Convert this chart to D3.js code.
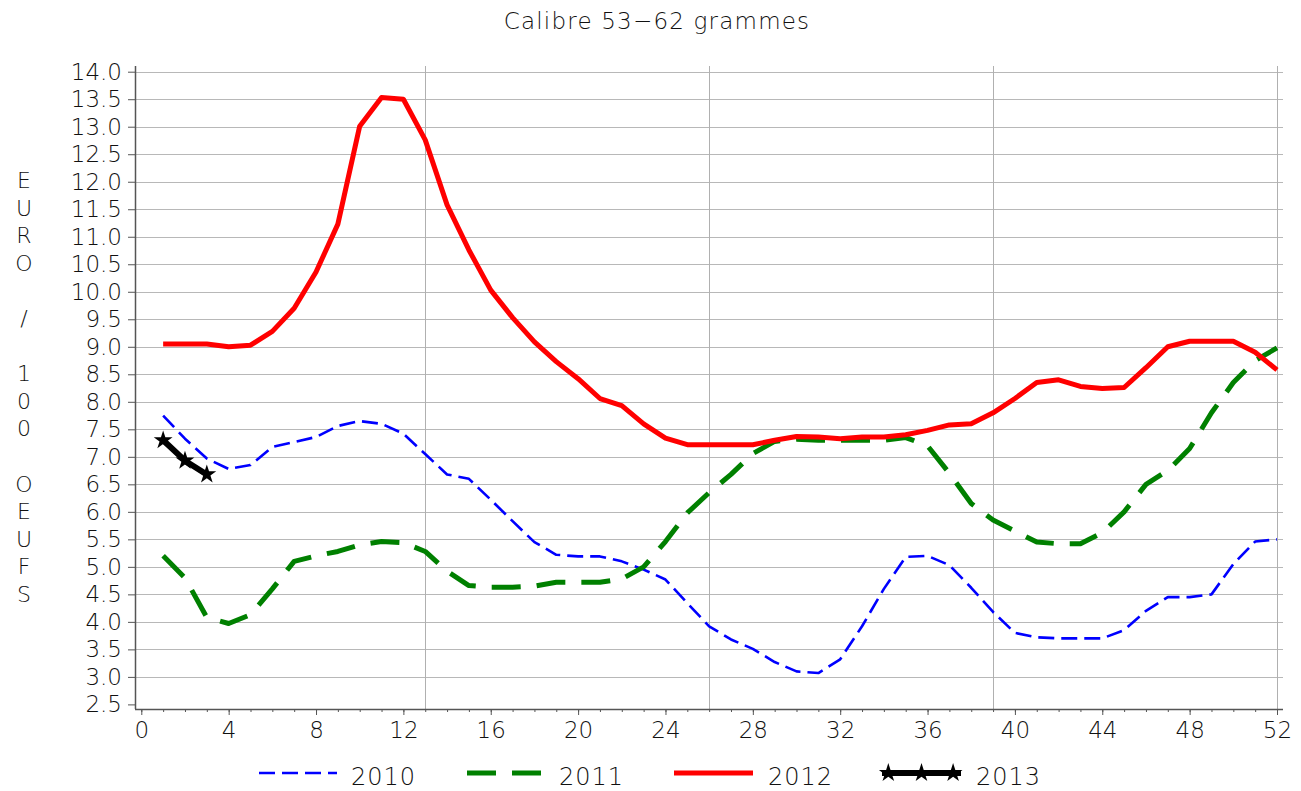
<!DOCTYPE html>
<html>
<head>
<meta charset="utf-8">
<script src="https://cdn.jsdelivr.net/npm/d3@7"></script>
<style>
  body { margin: 0; background: #fff; }
  text { font-family: "DejaVu Sans", sans-serif; font-weight: 200; fill: #111; }
</style>
</head>
<body>
<svg id="viz" width="1301" height="791"></svg>
<script>
// weekly prices, weeks 1..52
var weeks = d3.range(1, 53);
var prix2010 = [7.75, 7.33, 6.97, 6.78, 6.85, 7.18, 7.27, 7.36, 7.56, 7.65,
  7.6, 7.42, 7.05, 6.68, 6.6, 6.22, 5.83, 5.45, 5.22, 5.19,
  5.19, 5.1, 4.95, 4.77, 4.34, 3.92, 3.68, 3.51, 3.27, 3.1,
  3.07, 3.32, 3.92, 4.6, 5.18, 5.2, 5.03, 4.62, 4.18, 3.8,
  3.72, 3.7, 3.7, 3.7, 3.85, 4.2, 4.45, 4.45, 4.5, 5.05,
  5.46, 5.5];
var prix2011 = [5.2, 4.8, 4.08, 3.97, 4.13, 4.6, 5.1, 5.2, 5.28, 5.4,
  5.46, 5.44, 5.28, 4.92, 4.66, 4.63, 4.63, 4.65, 4.72, 4.72,
  4.72, 4.78, 5.0, 5.46, 5.98, 6.35, 6.68, 7.06, 7.28, 7.32,
  7.3, 7.3, 7.3, 7.3, 7.35, 7.2, 6.7, 6.15, 5.85, 5.65,
  5.45, 5.42, 5.42, 5.62, 6.0, 6.5, 6.75, 7.15, 7.8, 8.35,
  8.75, 8.98];
var prix2012 = [9.05, 9.05, 9.05, 9.0, 9.03, 9.28, 9.7, 10.36, 11.23, 13.01,
  13.53, 13.5, 12.76, 11.58, 10.76, 10.03, 9.53, 9.09, 8.73, 8.42,
  8.06, 7.93, 7.6, 7.34, 7.22, 7.22, 7.22, 7.22, 7.3, 7.37,
  7.36, 7.33, 7.36, 7.36, 7.4, 7.48, 7.58, 7.6, 7.8, 8.06,
  8.35, 8.4, 8.28, 8.24, 8.26, 8.62, 9.0, 9.1, 9.1, 9.1,
  8.9, 8.58];
var prix2013 = [7.3, 6.93, 6.68];

var yTicks = d3.range(2.5, 14.01, 0.5);
var xMajor = d3.range(0, 53, 4);
var xGrid = [13, 26, 39, 52];
var titre = "Calibre 53\u221262 grammes";
var yTitre = ["E", "U", "R", "O", " ", "/", " ", "1", "0", "0", " ", "O", "E", "U", "F", "S"];

var series = [
  {name: "2010", values: prix2010, color: "#0000ff", width: 2.6, dash: "16,7", star: false},
  {name: "2011", values: prix2011, color: "#008000", width: 5, dash: "29,16", star: false},
  {name: "2012", values: prix2012, color: "#ff0000", width: 5, dash: null, star: false},
  {name: "2013", values: prix2013, color: "#000000", width: 6, dash: null, star: true}
];

var svg = d3.select("#viz");
var x = d3.scaleLinear().domain([0, 52]).range([141.3, 1277]);
var y = d3.scaleLinear().domain([2.5, 14]).range([704.4, 71.7]);
var plotL = 135, plotB = 709, plotT = 66, plotR = 1283;

// title
svg.append("text")
  .attr("x", 657).attr("y", 29)
  .attr("text-anchor", "middle")
  .style("font-size", "23px").style("letter-spacing", "1.2px")
  .text(titre);

// grid
var grid = svg.append("g");
grid.selectAll(".hg").data(yTicks.filter(function(d){ return d >= 3; }))
  .enter().append("line")
  .attr("x1", plotL).attr("x2", plotR)
  .attr("y1", function(d){ return Math.round(y(d)) + 0.5; })
  .attr("y2", function(d){ return Math.round(y(d)) + 0.5; })
  .attr("stroke", "#b8b8b8").attr("stroke-width", 1);
grid.selectAll(".vg").data(xGrid)
  .enter().append("line")
  .attr("y1", plotT).attr("y2", plotB)
  .attr("x1", function(d){ return Math.round(x(d)) + 0.5; })
  .attr("x2", function(d){ return Math.round(x(d)) + 0.5; })
  .attr("stroke", "#b0b0b0").attr("stroke-width", 1);

// axes
var yAxis = d3.axisLeft(y).tickValues(yTicks).tickSize(7).tickPadding(6)
  .tickFormat(d3.format(".1f"));
var gy = svg.append("g").attr("transform", "translate(" + plotL + ",0)").call(yAxis);
gy.select(".domain").remove();
gy.selectAll(".tick line").attr("stroke", "#555");
gy.selectAll("text").style("font-size", "23px").style("font-family", null);

var xAxisMinor = d3.axisBottom(x).tickValues(d3.range(0, 53)).tickSize(3).tickFormat("");
var gxm = svg.append("g").attr("transform", "translate(0," + plotB + ")").call(xAxisMinor);
gxm.select(".domain").remove();
gxm.selectAll(".tick line").attr("stroke", "#555");

var xAxis = d3.axisBottom(x).tickValues(xMajor).tickSize(6).tickPadding(7);
var gx = svg.append("g").attr("transform", "translate(0," + plotB + ")").call(xAxis);
gx.select(".domain").remove();
gx.selectAll(".tick line").attr("stroke", "#555");
gx.selectAll("text").style("font-size", "23px").style("font-family", null);

svg.append("line").attr("x1", plotL + 0.5).attr("x2", plotL + 0.5).attr("y1", plotT).attr("y2", plotB)
  .attr("stroke", "#555").attr("stroke-width", 1.5);
svg.append("line").attr("x1", plotL).attr("x2", plotR).attr("y1", plotB + 0.5).attr("y2", plotB + 0.5)
  .attr("stroke", "#555").attr("stroke-width", 1.5);

// y title, one letter per row
svg.append("g").selectAll("text").data(yTitre).enter().append("text")
  .attr("x", 24)
  .attr("y", function(d, i){ return 188 + i * 27.6; })
  .attr("text-anchor", "middle")
  .style("font-size", "22px")
  .text(function(d){ return d; });

// lines
var line = d3.line()
  .x(function(d, i){ return x(weeks[i]); })
  .y(function(d){ return y(d); });

var star = d3.symbol().type(d3.symbolStar).size(110);

series.forEach(function(s){
  svg.append("path")
    .datum(s.values)
    .attr("fill", "none")
    .attr("stroke", s.color)
    .attr("stroke-width", s.width)
    .attr("stroke-linejoin", "round")
    .attr("stroke-dasharray", s.dash)
    .attr("d", line);
  if(s.star){
    svg.append("g").selectAll("path").data(s.values).enter().append("path")
      .attr("d", star)
      .attr("fill", s.color)
      .attr("transform", function(d, i){ return "translate(" + x(weeks[i]) + "," + y(d) + ")"; });
  }
});

// legend
var legendPos = [
  {x1: 259, x2: 337, tx: 351},
  {x1: 467, x2: 543, tx: 559},
  {x1: 674, x2: 753, tx: 768},
  {x1: 882, x2: 961, tx: 976}
];
var ly = 773;
series.forEach(function(s, i){
  var p = legendPos[i];
  svg.append("line")
    .attr("x1", p.x1).attr("x2", p.x2).attr("y1", ly).attr("y2", ly)
    .attr("stroke", s.color).attr("stroke-width", s.width)
    .attr("stroke-dasharray", s.dash);
  if(s.star){
    [0.08, 0.5, 0.9].forEach(function(f){
      svg.append("path").attr("d", star).attr("fill", s.color)
        .attr("transform", "translate(" + (p.x1 + f * (p.x2 - p.x1)) + "," + ly + ")");
    });
  }
  svg.append("text")
    .attr("x", p.tx).attr("y", 785)
    .style("font-size", "24px").style("letter-spacing", "1px")
    .text(s.name);
});
</script>
</body>
</html>
